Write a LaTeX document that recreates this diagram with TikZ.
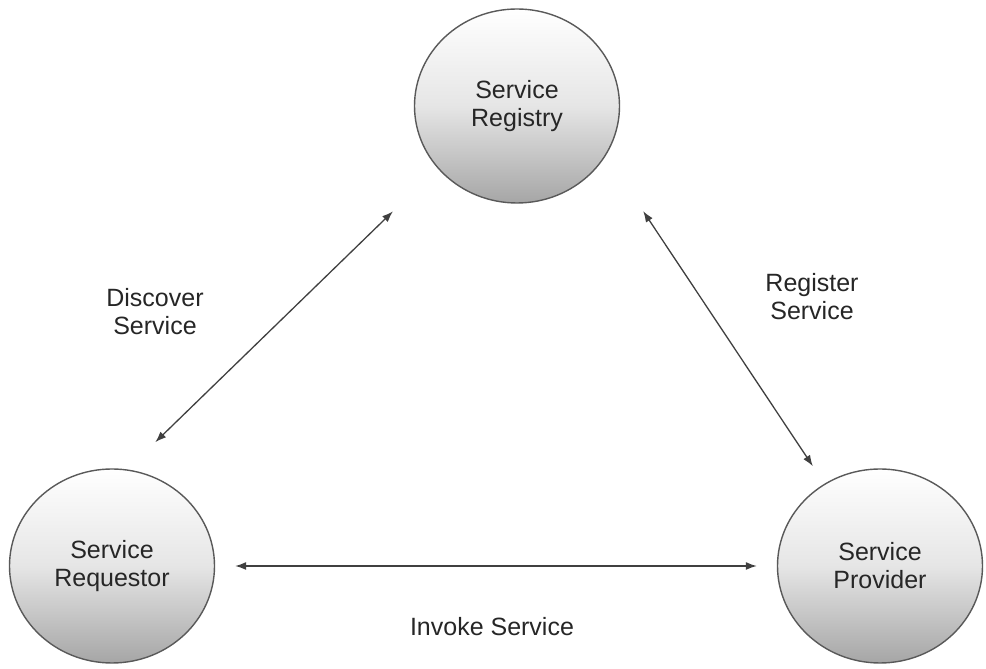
\documentclass[tikz,border=0pt]{standalone}
\usepackage{fontspec}
\setmainfont{Liberation Sans}
\usetikzlibrary{shapes.geometric,arrows.meta}

\begin{document}
\begin{tikzpicture}[x=1pt, y=1pt,
    every node/.style={font=\fontsize{25}{28}\selectfont, align=center, text=black!85},
    party/.style={ellipse, minimum width=205, minimum height=194, draw=black!65, line width=1.4,
      top color=white, bottom color=black!35, middle color=black!10},
    link/.style={{Latex[length=11,width=8]}-{Latex[length=11,width=8]}, draw=black!75, line width=1.3}]
      \useasboundingbox (0,0) rectangle (986,669);
      \node[party] (registry) at (517, 563) {Service\\Registry};
      \node[party] (requestor) at (112, 103) {Service\\Requestor};
      \node[party] (provider) at (880, 103) {Service\\Provider};
      \draw[link, shorten <=39, shorten >=62] (requestor.81) -- (registry.218);
      \draw[link, shorten <=67, shorten >=21] (registry.331) -- (provider.124);
      \draw[link, shorten <=20, shorten >=20] (requestor.east) -- (provider.west);
      \node (discover) at (155, 357) {Discover\\Service};
      \node (register) at (812, 372) {Register\\Service};
      \node (invoke) at (492, 42) {Invoke Service};
    \end{tikzpicture}
\end{document}
